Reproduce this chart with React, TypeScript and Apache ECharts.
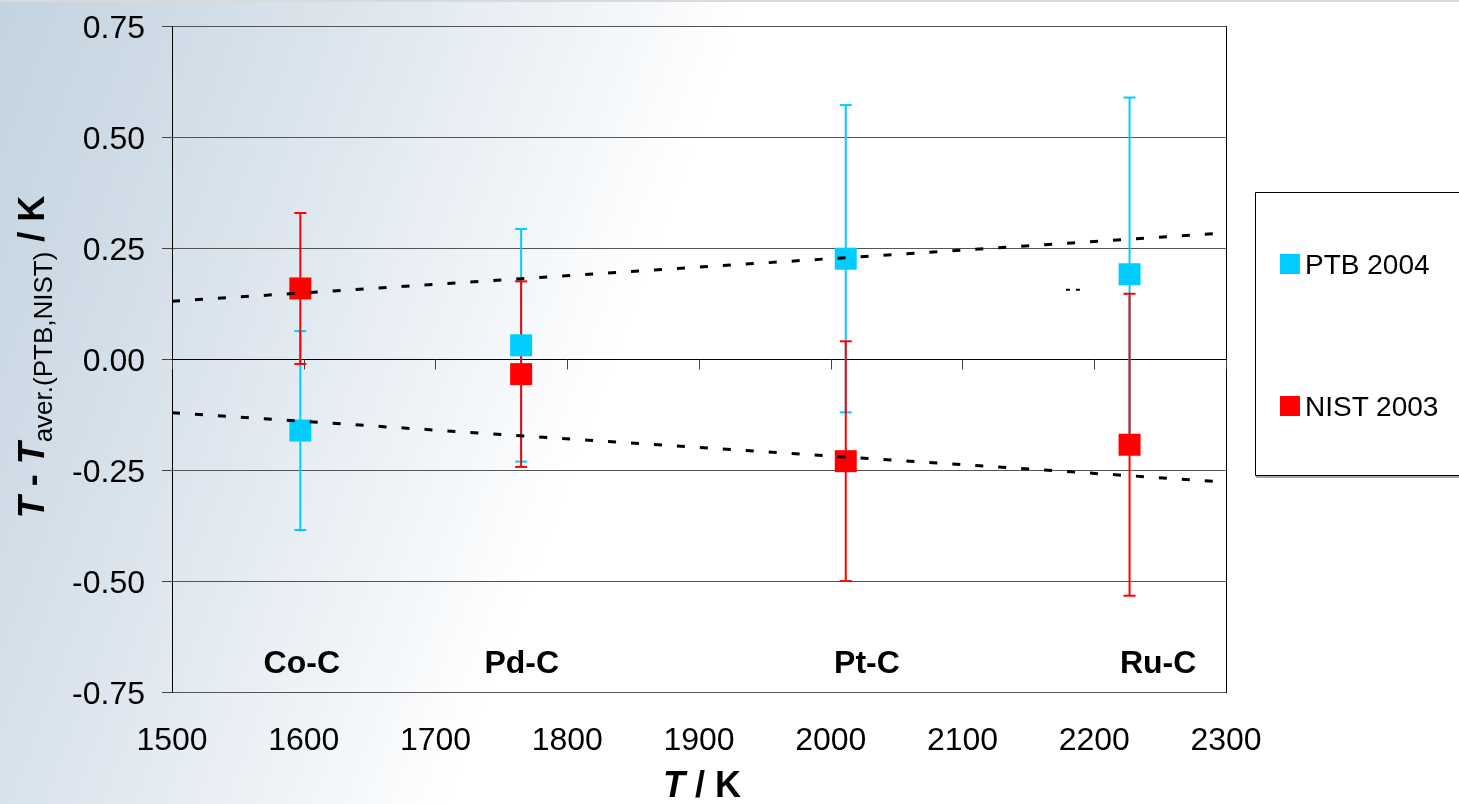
import React, { useEffect, useRef } from "react";
import * as echarts from "echarts";

// ---- data ----
const temperatures = [1597.4, 1765.0, 2011.4, 2226.8];
const ptbValues = [-0.16, 0.032, 0.227, 0.192];
const ptbUncertainties = [0.224, 0.262, 0.346, 0.398];
const nistValues = [0.16, -0.033, -0.229, -0.192];
const nistUncertainties = [0.17, 0.209, 0.27, 0.34];
const trendX = [1500, 2300];
const upperTrend = [0.131, 0.285];
const lowerTrend = [-0.12, -0.276];
const strayDashX = [2178.5, 2189.5];
const strayDashY = [0.157, 0.157];
const fixedPoints = ["Co-C", "Pd-C", "Pt-C", "Ru-C"];
const fixedPointLabelX = [1598.5, 1765.5, 2027.5, 2248.5];
const fixedPointLabelY = -0.682;
const xMin = 1500, xMax = 2300, xStep = 100;
const yMin = -0.75, yMax = 0.75, yStep = 0.25;
const seriesNames = ["PTB 2004", "NIST 2003"];

const FONT = "'Liberation Sans', Arial, sans-serif";
const CYAN = "#00CCFF";
const RED = "#FF0000";

function errData(vals: number[], errs: number[]) {
  return temperatures.map((t, i) => [t, vals[i] - errs[i], vals[i] + errs[i]]);
}

function errRender(color: string) {
  return (params: any, api: any) => {
    const x = api.value(0);
    const lo = api.coord([x, api.value(1)]);
    const hi = api.coord([x, api.value(2)]);
    const hw = 6;
    const style = { stroke: color, lineWidth: 2 };
    return {
      type: "group",
      children: [
        { type: "line", shape: { x1: hi[0], y1: hi[1], x2: lo[0], y2: lo[1] }, style },
        { type: "line", shape: { x1: hi[0] - hw, y1: hi[1], x2: hi[0] + hw, y2: hi[1] }, style },
        { type: "line", shape: { x1: lo[0] - hw, y1: lo[1], x2: lo[0] + hw, y2: lo[1] }, style },
      ],
    };
  };
}

export default function App() {
  const ref = useRef<HTMLDivElement>(null);
  useEffect(() => {
    if (!ref.current) return;
    const chart = echarts.init(ref.current, null, { renderer: "svg" });
    const bg = new echarts.graphic.LinearGradient(0, 0, 656, 245, [
      { offset: 0, color: "#C3D3E0" },
      { offset: 0.3, color: "#D2DEE8" },
      { offset: 0.6, color: "#E4EBF2" },
      { offset: 0.85, color: "#F4F7FA" },
      { offset: 1, color: "#FFFFFF" },
    ], true);
    const option: any = {
      animation: false,
      grid: { left: 172, right: 233, top: 26.5, bottom: 111.5, containLabel: false },
      legend: {
        data: seriesNames,
        orient: "vertical",
        left: 1280,
        top: 250,
        itemGap: 114,
        itemWidth: 20,
        itemHeight: 20,
        icon: "rect",
        padding: 0,
        textStyle: { fontFamily: FONT, fontSize: 28, color: "#000" },
      },
      xAxis: {
        type: "value",
        min: xMin,
        max: xMax,
        interval: xStep,
        axisLine: { show: true, lineStyle: { color: "#000", width: 1 } },
        axisTick: { show: true, inside: false, length: 10, lineStyle: { color: "#444" } },
        axisLabel: {
          fontFamily: FONT,
          fontSize: 32,
          color: "#000",
          margin: 30,
          formatter: (v: number) => String(v),
        },
        splitLine: { show: false },
      },
      yAxis: [
        {
          type: "value",
          min: yMin,
          max: yMax,
          interval: yStep,
          axisLine: { show: true, lineStyle: { color: "#000", width: 1 } },
          axisTick: { show: true, inside: false, length: 10, lineStyle: { color: "#444" } },
          axisLabel: {
            fontFamily: FONT,
            fontSize: 32,
            color: "#000",
            margin: 27,
            formatter: (v: number) => v.toFixed(2),
          },
          splitLine: { show: true, lineStyle: { color: "#555", width: 1 } },
        },
        {
          type: "value",
          position: "right",
          min: yMin,
          max: yMax,
          interval: yStep,
          axisLine: { show: true, lineStyle: { color: "#000", width: 1 } },
          axisTick: { show: false },
          axisLabel: { show: false },
          splitLine: { show: false },
        },
      ],
      graphic: {
        elements: [
          { type: "rect", z: -10, silent: true, shape: { x: 0, y: 0, width: 1459, height: 804 }, style: { fill: bg } },
          { type: "rect", z: -9, silent: true, shape: { x: 0, y: 0, width: 1459, height: 2 }, style: { fill: "#DADADA" } },
          {
            type: "rect",
            z: 1,
            shape: { x: 1255.5, y: 192.5, width: 260, height: 283 },
            style: { fill: "#fff", stroke: "#000", lineWidth: 1, shadowColor: "rgba(0,0,0,0.35)", shadowOffsetY: 2, shadowOffsetX: 1, shadowBlur: 1 },
          },
          {
            type: "text",
            z: 10,
            x: 702,
            y: 784,
            style: {
              text: "{i|T}{b| / K}",
              align: "center",
              verticalAlign: "middle",
              rich: {
                i: { fontFamily: FONT, fontSize: 36, fontWeight: "bold", fontStyle: "italic", fill: "#000" },
                b: { fontFamily: FONT, fontSize: 36, fontWeight: "bold", fill: "#000" },
              },
            },
          },
          {
            type: "text",
            z: 10,
            x: 31.5,
            y: 357,
            rotation: Math.PI / 2,
            style: {
              text: "{i|T}{b| - }{i|T}{s|aver.(PTB,NIST)}{b| / K}",
              align: "center",
              verticalAlign: "middle",
              rich: {
                i: { fontFamily: FONT, fontSize: 36, fontWeight: "bold", fontStyle: "italic", fill: "#000" },
                b: { fontFamily: FONT, fontSize: 36, fontWeight: "bold", fill: "#000" },
                s: { fontFamily: FONT, fontSize: 26, fill: "#000", padding: [23, 0, 0, 0] },
              },
            },
          },
        ],
      },
      series: [
        {
          type: "custom",
          name: "PTB err",
          z: 2,
          silent: true,
          renderItem: errRender(CYAN),
          data: errData(ptbValues, ptbUncertainties),
          encode: { x: 0, y: [1, 2] },
        },
        {
          type: "custom",
          name: "NIST err",
          z: 3,
          silent: true,
          renderItem: errRender(RED),
          data: errData(nistValues, nistUncertainties),
          encode: { x: 0, y: [1, 2] },
        },
        {
          type: "scatter",
          name: seriesNames[0],
          z: 4,
          symbol: "rect",
          symbolSize: 22,
          itemStyle: { color: CYAN, opacity: 1 },
          data: temperatures.map((t, i) => [t, ptbValues[i]]),
        },
        {
          type: "scatter",
          name: seriesNames[1],
          z: 5,
          symbol: "rect",
          symbolSize: 22,
          itemStyle: { color: RED, opacity: 1 },
          data: temperatures.map((t, i) => [t, nistValues[i]]),
        },
        {
          type: "line",
          name: "trend1",
          z: 6,
          symbol: "none",
          silent: true,
          lineStyle: { color: "#000", width: 3, type: [8, 15] },
          data: trendX.map((x, i) => [x, upperTrend[i]]),
        },
        {
          type: "line",
          name: "trend2",
          z: 6,
          symbol: "none",
          silent: true,
          lineStyle: { color: "#000", width: 3, type: [8, 15] },
          data: trendX.map((x, i) => [x, lowerTrend[i]]),
        },
        {
          type: "line",
          name: "stray",
          z: 6,
          symbol: "none",
          silent: true,
          lineStyle: { color: "#000", width: 2, type: [4, 6] },
          data: strayDashX.map((x, i) => [x, strayDashY[i]]),
        },
        {
          type: "scatter",
          name: "labels",
          z: 7,
          silent: true,
          symbolSize: 0,
          itemStyle: { opacity: 1, color: "#000" },
          label: {
            show: true,
            position: "inside",
            formatter: "{b}",
            fontFamily: FONT,
            fontSize: 32,
            fontWeight: "bold",
            color: "#000",
            opacity: 1,
            textBorderWidth: 0,
          },
          data: fixedPoints.map((n, i) => ({ name: n, value: [fixedPointLabelX[i], fixedPointLabelY] })),
        },
      ],
    };
    chart.setOption(option);
    return () => chart.dispose();
  }, []);
  return (
    <div
      ref={ref}
      style={{ position: "fixed", left: 0, top: 0, width: 1459, height: 804 }}
    />
  );
}
